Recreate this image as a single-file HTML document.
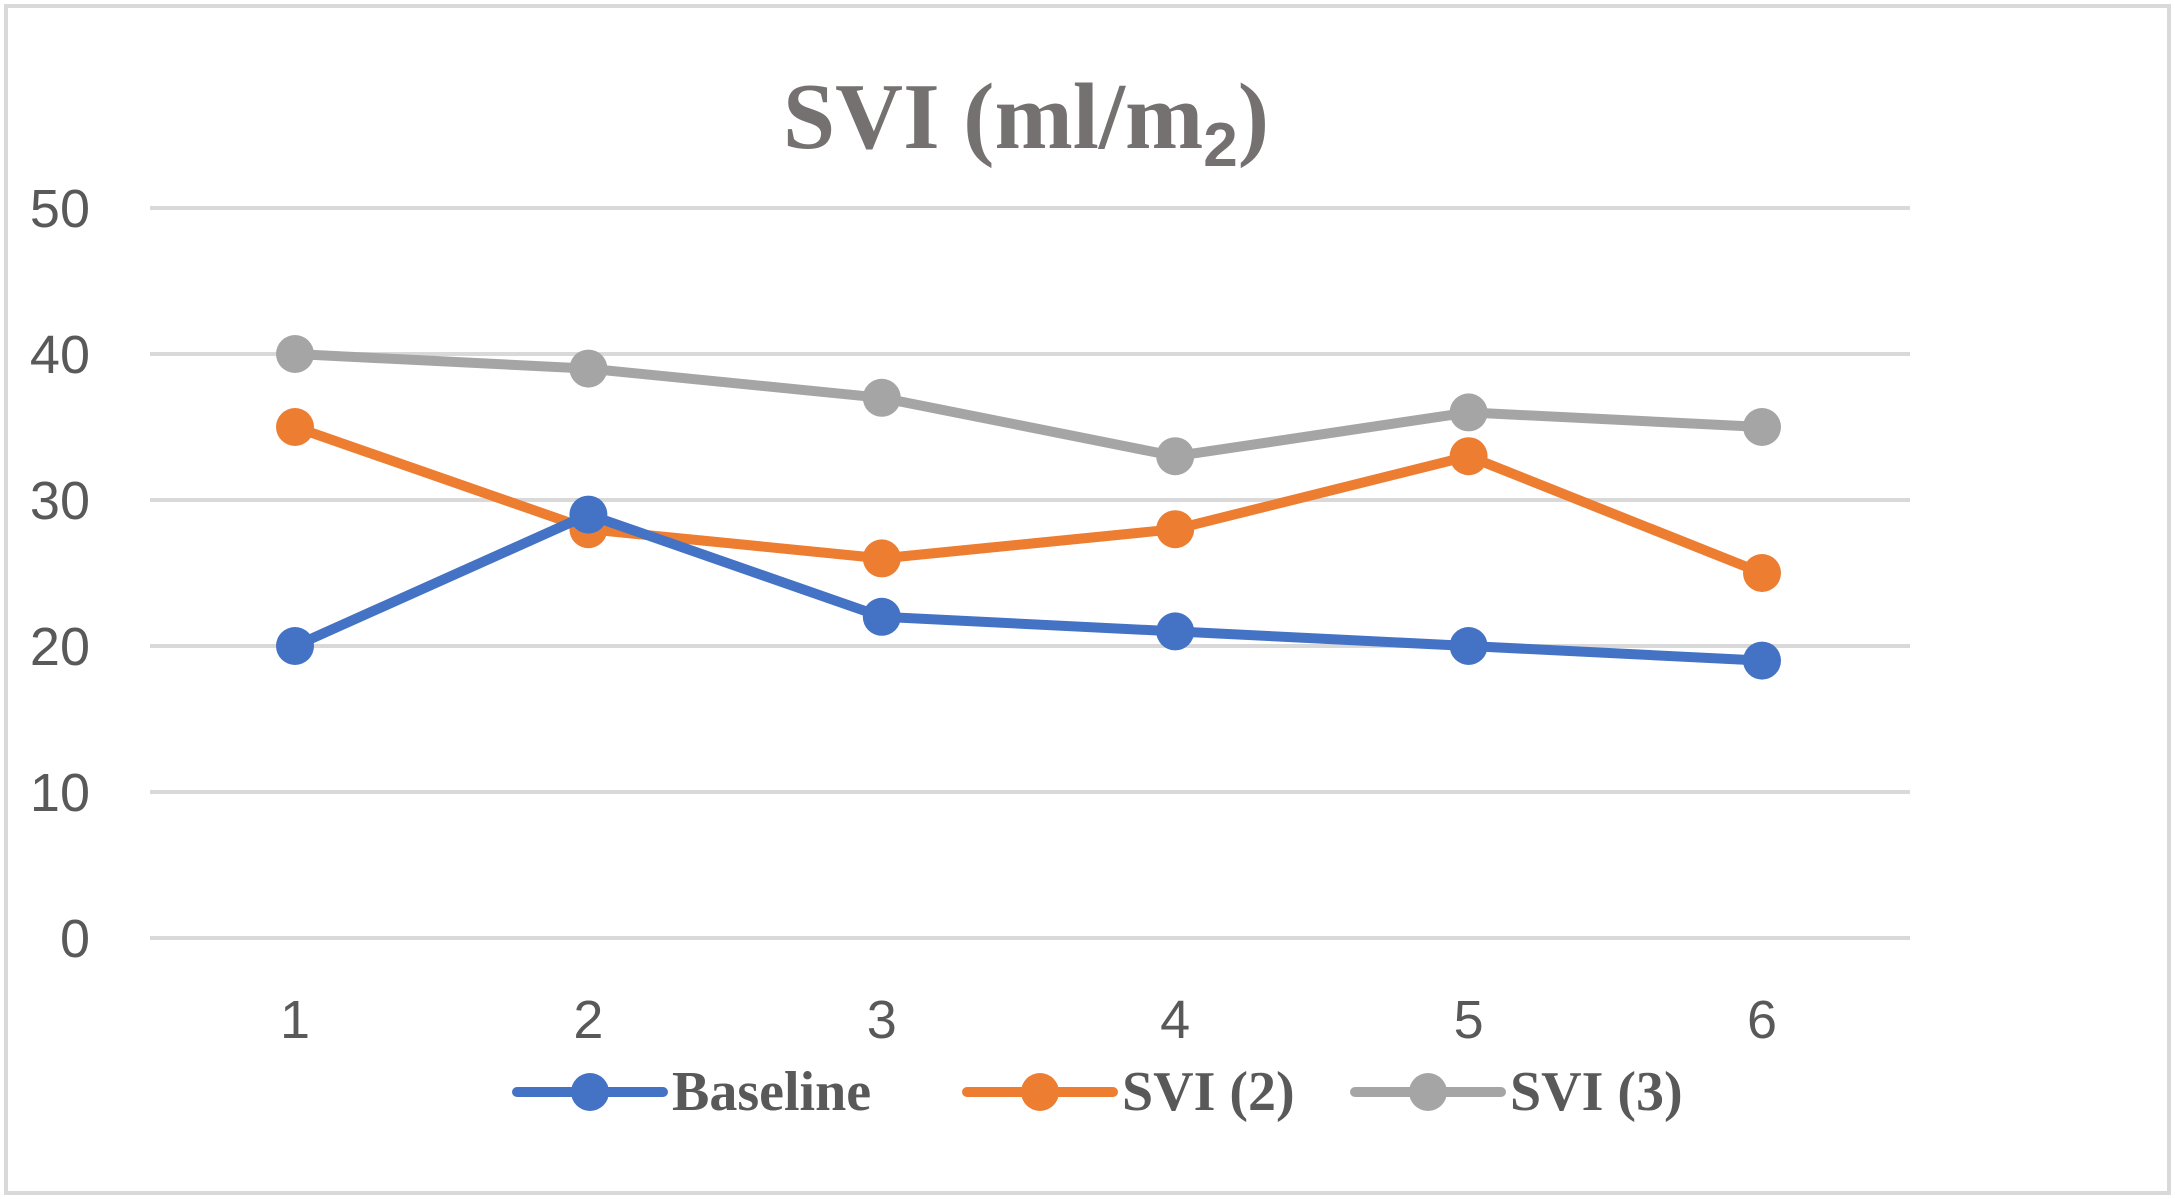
<!DOCTYPE html>
<html><head><meta charset="utf-8"><style>
html,body{margin:0;padding:0;background:#fff;}
svg{display:block;}
</style></head><body>
<svg id="chart" width="2175" height="1199" viewBox="0 0 2175 1199" xmlns="http://www.w3.org/2000/svg">
<rect x="6" y="6" width="2163" height="1187" fill="#fff" stroke="#d9d9d9" stroke-width="4"/>
<text x="1026" y="148" text-anchor="middle" font-family="Liberation Serif, serif" font-weight="bold" font-size="94" fill="#767171">SVI (ml/m<tspan font-family="Liberation Sans, sans-serif" font-size="62" dy="18">2</tspan><tspan dy="-18">)</tspan></text>
<g id="grid"></g>
<g id="series"></g>
<g id="legend"></g>
</svg>
<script>
const categories = ["1","2","3","4","5","6"];
const yTicks = [0,10,20,30,40,50];
const baseline = [20,29,22,21,20,19];
const svi2 = [35,28,26,28,33,25];
const svi3 = [40,39,37,33,36,35];
const seriesNames = ["Baseline","SVI (2)","SVI (3)"];

const NS="http://www.w3.org/2000/svg";
const svg=document.getElementById('chart');
const gGrid=document.getElementById('grid');
const gSeries=document.getElementById('series');
const gLegend=document.getElementById('legend');
const plotL=150, plotR=1910, y0=938, y50=208;
function yScale(v){return y0-(v/50)*(y0-y50);}
function xScale(i){return 295+i*(1762-295)/(categories.length-1);}
function mk(tag,attrs,parent){const e=document.createElementNS(NS,tag);for(const k in attrs)e.setAttribute(k,attrs[k]);parent.appendChild(e);return e;}

yTicks.forEach(t=>{
  const l=mk('line',{x1:plotL,x2:plotR,y1:yScale(t),y2:yScale(t),stroke:'#d9d9d9','stroke-width':4},gGrid);
  
  
  const tx=mk('text',{x:90,y:yScale(t)+19,'text-anchor':'end','font-family':'Liberation Sans, sans-serif','font-size':54,fill:'#595959'},gGrid);
  tx.textContent=t;
  
  
});
categories.forEach((c,i)=>{
  const tx=mk('text',{x:xScale(i),y:1038,'text-anchor':'middle','font-family':'Liberation Sans, sans-serif','font-size':54,fill:'#595959'},gGrid);
  tx.textContent=c;
  
  
});

const allSeries=[[svi3,'#a5a5a5'],[svi2,'#ed7d31'],[baseline,'#4472c4']];
const names=['svi-3','svi-2','baseline'];
allSeries.forEach(([vals,col],si)=>{
  const g=mk('g',{},gSeries);
  
  
  const pts=vals.map((v,i)=>xScale(i)+','+yScale(v)).join(' ');
  const pl=mk('polyline',{points:pts,fill:'none',stroke:col,'stroke-width':10,'stroke-linejoin':'round'},g);
  
  
  vals.forEach((v,i)=>{
    const c=mk('circle',{cx:xScale(i),cy:yScale(v),r:19,fill:col},g);
    
    
  });
});

const legCols=['#4472c4','#ed7d31','#a5a5a5'];
const legX=[517,967,1355];
seriesNames.forEach((n,i)=>{
  const g=mk('g',{},gLegend);
  
  
  mk('line',{x1:legX[i],x2:legX[i]+146,y1:1092,y2:1092,stroke:legCols[i],'stroke-width':10,'stroke-linecap':'round'},g);
  mk('circle',{cx:legX[i]+73,cy:1092,r:19,fill:legCols[i]},g);
  const t=mk('text',{x:legX[i]+155,y:1110,'font-family':'Liberation Serif, serif','font-weight':'bold','font-size':56,fill:'#595959'},g);
  t.textContent=n;
});
</script>
</body></html>
